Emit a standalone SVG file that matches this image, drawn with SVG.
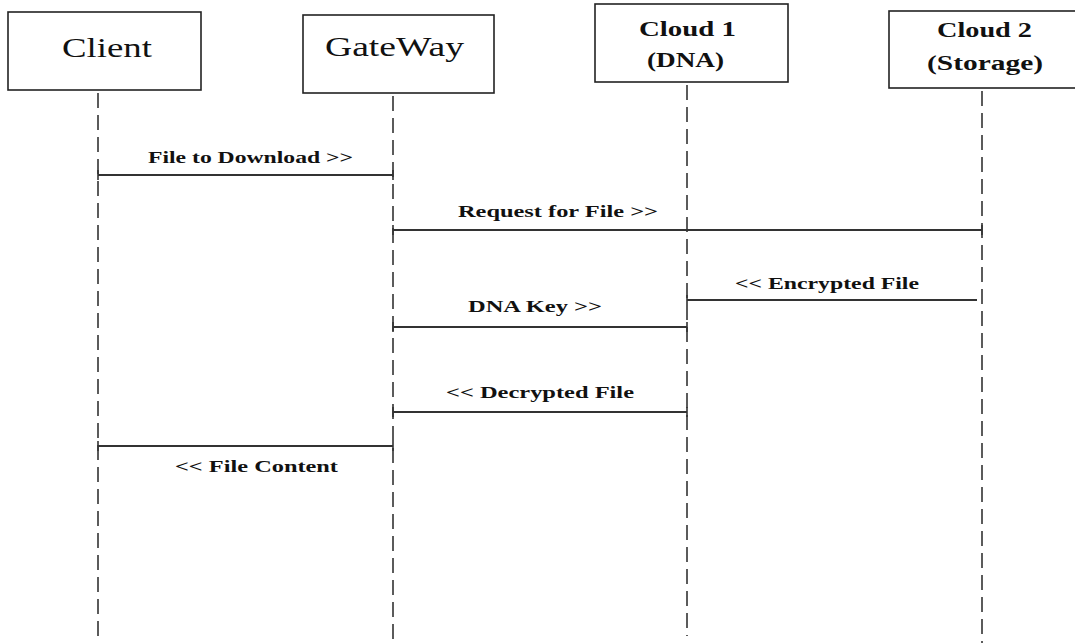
<svg xmlns="http://www.w3.org/2000/svg" width="1075" height="643" viewBox="0 0 1075 643">
<style>
.box{fill:#fff;stroke:#222;stroke-width:1.6}
.life{stroke:#333;stroke-width:1.6;stroke-dasharray:15 7;fill:none}
.msg{stroke:#333;stroke-width:1.8;fill:none;marker-start:url(#tick);marker-end:url(#tick)}
.title{font-family:"Liberation Serif",serif;font-size:28px;fill:#111}
.ctitle{font-family:"Liberation Serif",serif;font-size:20px;font-weight:bold;fill:#111}
.lbl{font-family:"Liberation Serif",serif;font-size:16.5px;font-weight:bold;fill:#111}
</style>
<defs>
<marker id="tick" viewBox="0 0 2 10" refX="1" refY="5" markerWidth="2" markerHeight="10" markerUnits="userSpaceOnUse" orient="auto">
<line x1="1" y1="0" x2="1" y2="10" stroke="#333" stroke-width="1.6"/>
</marker>
</defs>
<rect width="1075" height="643" fill="#fff"/>
<g id="lifelines">
<line class="life" x1="98" y1="93" x2="98" y2="643"/>
<line class="life" x1="393" y1="96" x2="393" y2="643"/>
<line class="life" x1="687" y1="85" x2="687" y2="636"/>
<line class="life" x1="982" y1="91" x2="982" y2="643"/>
</g>
<g id="client">
<rect class="box" x="8" y="12" width="193" height="78"/>
<text class="title" x="62" y="57" textLength="90" lengthAdjust="spacingAndGlyphs">Client</text>
</g>
<g id="gateway">
<rect class="box" x="303" y="15" width="191" height="78"/>
<text class="title" x="325" y="56" textLength="139" lengthAdjust="spacingAndGlyphs">GateWay</text>
</g>
<g id="cloud1">
<rect class="box" x="595" y="4" width="193" height="78"/>
<text class="ctitle" x="639" y="36" textLength="97" lengthAdjust="spacingAndGlyphs">Cloud 1</text>
<text class="ctitle" x="647" y="67" textLength="77" lengthAdjust="spacingAndGlyphs">(DNA)</text>
</g>
<g id="cloud2">
<rect class="box" x="889" y="11" width="200" height="77"/>
<text class="ctitle" x="937" y="37" textLength="95" lengthAdjust="spacingAndGlyphs">Cloud 2</text>
<text class="ctitle" x="927" y="70" textLength="116" lengthAdjust="spacingAndGlyphs">(Storage)</text>
</g>
<g id="connectors">
<line class="msg" x1="98" y1="175" x2="393" y2="175"/>
<text class="lbl" x="148" y="163" textLength="205" lengthAdjust="spacingAndGlyphs">File to Download &gt;&gt;</text>
<line class="msg" x1="393" y1="230" x2="982" y2="230"/>
<text class="lbl" x="458" y="217" textLength="200" lengthAdjust="spacingAndGlyphs">Request for File &gt;&gt;</text>
<line class="msg" style="marker-end:none" x1="687" y1="300" x2="977" y2="300"/>
<text class="lbl" x="735" y="289" textLength="184" lengthAdjust="spacingAndGlyphs">&lt;&lt; Encrypted File</text>
<line class="msg" x1="393" y1="327" x2="687" y2="327"/>
<text class="lbl" x="468" y="312" textLength="134" lengthAdjust="spacingAndGlyphs">DNA Key &gt;&gt;</text>
<line class="msg" x1="393" y1="412" x2="687" y2="412"/>
<text class="lbl" x="446" y="398" textLength="188" lengthAdjust="spacingAndGlyphs">&lt;&lt; Decrypted File</text>
<line class="msg" x1="98" y1="446" x2="393" y2="446"/>
<text class="lbl" x="175" y="472" textLength="163" lengthAdjust="spacingAndGlyphs">&lt;&lt; File Content</text>
</g>
</svg>
